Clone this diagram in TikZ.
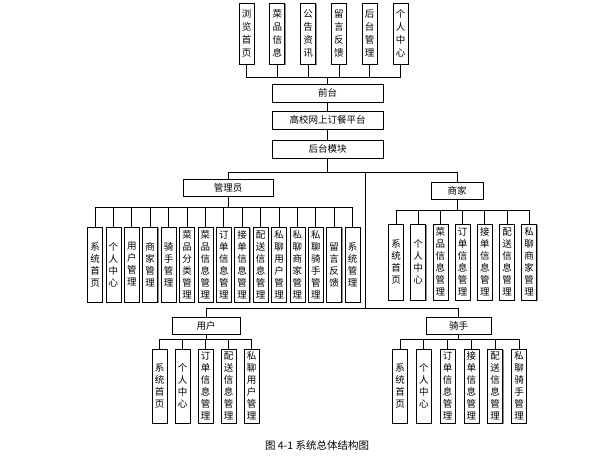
\documentclass[tikz,border=0pt]{standalone}
\usepackage{fontspec}
\newfontfamily\cjk{Noto Sans CJK SC}
\usetikzlibrary{shadows}
\begin{document}
\begin{tikzpicture}[
        x=1pt,y=-1pt,
        every node/.style={font=\cjk\fontsize{9.5}{12}\selectfont},
        boxshade/.style={drop shadow={shadow xshift=0.9pt,shadow yshift=-0.9pt,
            fill=black!45,opacity=1}},
        vbox/.style={draw,fill=white,line width=0.8pt,minimum width=15pt,
            minimum height=#1,inner sep=0pt,align=center,boxshade},
        hbox/.style={draw,fill=white,line width=0.8pt,minimum width=#1,
            minimum height=17pt,inner sep=0pt,boxshade},
        link/.style={line width=0.7pt}
    ]
    \useasboundingbox (0,0) rectangle (613,476);

    % Front end
    \foreach \t [count=\i] in {浏\\览\\首\\页,菜\\品\\信\\息,公\\告\\资\\讯,
            留\\言\\反\\馈,后\\台\\管\\理,个\\人\\中\\心}
        \node[vbox=61pt,font=\cjk\fontsize{9.5}{13}\selectfont]
            (f\i) at ({246.5+(\i-1)*30.8},33.5) {\t};

    \node[hbox=111pt,minimum height=18pt] (qt) at (327.5,93) {前台};
    \node[hbox=111pt,minimum height=18pt] (pt) at (327.5,120) {高校网上订餐平台};
    \node[hbox=111pt,minimum height=18pt] (ht) at (327.5,149) {后台模块};

    \foreach \i in {1,...,6}
        \draw[link] (qt.north) -- ++(0,-6) -| (f\i.south);
    \draw[link] (qt) -- (pt);
    \draw[link] (pt) -- (ht);

    % Back end roles
    \coordinate (j1) at (327.5,172);
    \coordinate (j2) at (365,172);
    \coordinate (j3) at (365,308);

    \node[hbox=90pt] (gly) at (228,187.5) {管理员};
    \node[hbox=52pt] (sj) at (457,190.5) {商家};
    \node[hbox=68pt] (yh) at (206,325.5) {用户};
    \node[hbox=65pt] (qs) at (458.5,325.5) {骑手};

    \draw[link] (ht.south) -- (j1);
    \draw[link] (j1) -| (gly.north);
    \draw[link] (j1) -| (sj.north);
    \draw[link] (j2) -- (j3);
    \draw[link] (j3) -| (yh.north);
    \draw[link] (j3) -| (qs.north);

    % Administrator
    \foreach \t [count=\i] in {系\\统\\首\\页,个\\人\\中\\心,用\\户\\管\\理,
            商\\家\\管\\理,骑\\手\\管\\理,菜\\品\\分\\类\\管\\理,
            菜\\品\\信\\息\\管\\理,订\\单\\信\\息\\管\\理,接\\单\\信\\息\\管\\理,
            配\\送\\信\\息\\管\\理,私\\聊\\用\\户\\管\\理,私\\聊\\商\\家\\管\\理,
            私\\聊\\骑\\手\\管\\理,留\\言\\反\\馈,系\\统\\管\\理}
    {
        \node[vbox=75pt] (g\i) at ({95+(\i-1)*18.4},264.5) {\t};
        \draw[link] (gly.south) -- ++(0,11) -| (g\i.north);
    }

    % Merchant
    \foreach \t [count=\i] in {系\\统\\首\\页,个\\人\\中\\心,菜\\品\\信\\息\\管\\理,
            订\\单\\信\\息\\管\\理,接\\单\\信\\息\\管\\理,配\\送\\信\\息\\管\\理,
            私\\聊\\商\\家\\管\\理}
    {
        \node[vbox=76pt] (s\i) at ({396+(\i-1)*22.2},262) {\t};
        \draw[link] (sj.south) -- ++(0,11) -| (s\i.north);
    }

    % User
    \foreach \t [count=\i] in {系\\统\\首\\页,个\\人\\中\\心,订\\单\\信\\息\\管\\理,
            配\\送\\信\\息\\管\\理,私\\聊\\用\\户\\管\\理}
    {
        \node[vbox=74pt] (y\i) at ({159.5+(\i-1)*23},386) {\t};
        \draw[link] (yh.south) -- ++(0,5) -| (y\i.north);
    }

    % Rider
    \foreach \t [count=\i] in {系\\统\\首\\页,个\\人\\中\\心,订\\单\\信\\息\\管\\理,
            接\\单\\信\\息\\管\\理,配\\送\\信\\息\\管\\理,私\\聊\\骑\\手\\管\\理}
    {
        \node[vbox=74pt] (r\i) at ({400+(\i-1)*23.8},386) {\t};
        \draw[link] (qs.south) -- ++(0,5) -| (r\i.north);
    }

    \node[font=\cjk\fontsize{10.5}{12}\selectfont] (cap) at (317,445)
        {图 4-1 系统总体结构图};
\end{tikzpicture}
\end{document}
